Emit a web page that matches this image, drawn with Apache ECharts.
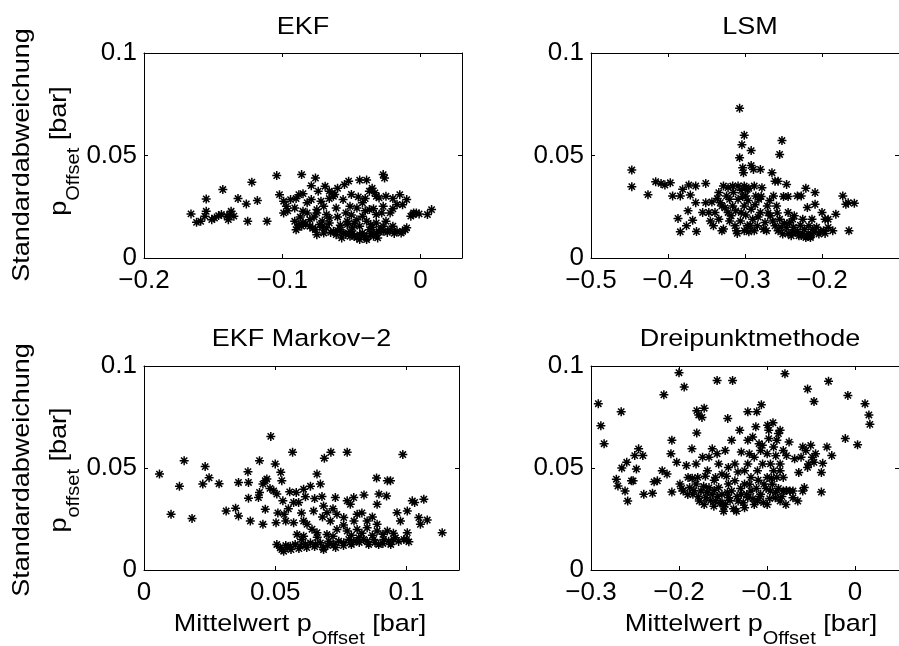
<!DOCTYPE html>
<html><head><meta charset="utf-8">
<script src="https://cdn.jsdelivr.net/npm/echarts@6/dist/echarts.min.js"></script>
<style>html,body{margin:0;padding:0;background:#fff}#c{width:899px;height:646px}</style>
</head><body><div id="c"></div>
<script>
const titles = ['EKF', 'LSM', 'EKF Markov\u22122', 'Dreipunktmethode'];
const xRanges = [[-0.2, 0.03], [-0.5, -0.1], [0, 0.12], [-0.3, 0.05]];
const xIntervals = [0.1, 0.1, 0.05, 0.1];
const yRange = [0, 0.1];
const yInterval = 0.05;
const xLabelText = ['Mittelwert p', 'Offset', ' [bar]'];
const yLabelTop = ['Standardabweichung', 'p', 'Offset', ' [bar]'];
const yLabelBottom = ['Standardabweichung', 'p', 'offset', ' [bar]'];

const ekfPts = [
[-0.166,0.0215],[-0.162,0.0174],[-0.159,0.0179],[-0.156,0.0204],[-0.155,0.0228],[-0.155,0.0288],[-0.151,0.0187],[-0.149,0.0195],[-0.146,0.0207],[-0.144,0.0212],[-0.143,0.0334],[-0.140,0.0204],[-0.139,0.0187],[-0.138,0.0212],[-0.137,0.0228],[-0.135,0.0204],[-0.132,0.029],[-0.126,0.0264],[-0.125,0.0179],[-0.122,0.037],[-0.118,0.028],[-0.111,0.0179],[-0.104,0.0402],
[-0.086,0.0407],[-0.076,0.039],[-0.079,0.0353],[-0.069,0.035],[-0.074,0.0326],[-0.055,0.0358],[-0.052,0.0375],[-0.044,0.038],[-0.039,0.038],[-0.027,0.0407],[-0.026,0.039],[-0.037,0.0326],[-0.064,0.0318],[-0.063,0.0301],
[-0.102,0.0309],[-0.099,0.0277],[-0.094,0.0285],[-0.088,0.0309],[-0.085,0.0314],[-0.079,0.0285],[-0.072,0.0277],[-0.056,0.0285],[-0.045,0.0298],[-0.042,0.0269],[-0.032,0.0301],[-0.025,0.0301],[-0.015,0.0309],[-0.010,0.0285],[-0.017,0.0261],[-0.027,0.0252],[-0.037,0.0236],[-0.046,0.0244],[-0.061,0.0244],[-0.075,0.0236],[-0.085,0.0228],[-0.091,0.0244],[-0.097,0.0252],[-0.099,0.022],
[-0.0055,0.0212],[-0.003,0.022],[-0.007,0.0204],[0.005,0.0212],[0.008,0.0236],[-0.022,0.022],[-0.032,0.0212],[-0.054,0.022],[-0.068,0.0212],[-0.075,0.022],[-0.082,0.022],
[-0.091,0.0179],[-0.088,0.0163],[-0.085,0.0174],[-0.080,0.0155],[-0.076,0.0138],[-0.073,0.0163],[-0.068,0.0147],[-0.063,0.013],[-0.058,0.0138],[-0.056,0.0122],[-0.051,0.013],[-0.048,0.0106],[-0.044,0.0155],[-0.042,0.0122],[-0.039,0.0098],[-0.037,0.0138],[-0.032,0.0122],[-0.027,0.013],[-0.022,0.0138],[-0.017,0.013],[-0.011,0.0138],[-0.010,0.0147],
[-0.090,0.0138],[-0.066,0.0171],[-0.053,0.0179],[-0.046,0.0187],[-0.039,0.0179],[-0.032,0.0171],[-0.025,0.0179],[-0.070,0.0122],[-0.061,0.0114],[-0.051,0.0106],[-0.044,0.0114],[-0.034,0.0106],[-0.027,0.0155],[-0.080,0.0187],[-0.066,0.0195],[-0.042,0.0204],[-0.053,0.0163],[-0.044,0.009],[-0.039,0.009],
[-0.086,0.0155],[-0.075,0.0114],[-0.057,0.0098],[-0.049,0.0147],[-0.036,0.0163],[-0.031,0.0098],[-0.020,0.0155],[-0.014,0.0122],[-0.066,0.0326],[-0.062,0.031],[-0.033,0.0318],[-0.030,0.0293],[-0.070,0.0252],[-0.051,0.0252],
[-0.089,0.015],[-0.083,0.0165],[-0.078,0.0145],[-0.071,0.015],[-0.065,0.0125],[-0.060,0.0135],[-0.054,0.0115],[-0.049,0.012],[-0.046,0.010],[-0.041,0.011],[-0.036,0.0118],[-0.030,0.0128],[-0.024,0.0125],[-0.019,0.012],[-0.013,0.013],[-0.058,0.016],[-0.048,0.017],[-0.035,0.015],[-0.029,0.014],[-0.071,0.018],[-0.087,0.020],[-0.077,0.020],[-0.060,0.020],[-0.050,0.021],[-0.040,0.023],[-0.034,0.024],[-0.028,0.022],[-0.020,0.024],[-0.013,0.026],[-0.090,0.029],[-0.082,0.027],[-0.066,0.029],[-0.060,0.034],[-0.050,0.031],[-0.040,0.029],[-0.035,0.034],[-0.020,0.029],[-0.005,0.022],[-0.001,0.0215],[-0.096,0.023]
];

const lsmPts = [
[-0.447,0.0429],[-0.447,0.0348],[-0.426,0.0309],[-0.416,0.0372],[-0.409,0.0364],[-0.404,0.0356],[-0.397,0.0367],[-0.394,0.0303],[-0.384,0.0303],[-0.381,0.0335],[-0.373,0.0356],[-0.364,0.0351],[-0.351,0.0364],[-0.371,0.0307],[-0.364,0.027],[-0.374,0.023],[-0.387,0.0193],[-0.384,0.0128],[-0.376,0.0157],[-0.368,0.0184],[-0.363,0.0129],[-0.355,0.0222],[-0.351,0.027],[-0.343,0.0273],[-0.341,0.0157],[-0.339,0.0222],[-0.334,0.0319],[-0.330,0.0254],[-0.328,0.0351],[-0.322,0.0343],[-0.320,0.0286],[-0.318,0.0206],[-0.313,0.0157],[-0.309,0.0351],
[-0.307,0.073],[-0.307,0.0489],[-0.304,0.0553],[-0.301,0.0599],[-0.303,0.044],[-0.302,0.0416],[-0.301,0.0351],[-0.299,0.0303],[-0.297,0.0157],[-0.295,0.0128],[-0.292,0.0524],[-0.292,0.0451],[-0.289,0.0432],[-0.280,0.0432],[-0.288,0.0351],[-0.282,0.0286],[-0.280,0.0222],[-0.274,0.0173],[-0.272,0.0133],[-0.263,0.0303],[-0.265,0.0416],[-0.261,0.0375],[-0.257,0.0375],[-0.255,0.0505],[-0.252,0.0573],[-0.246,0.0359],[-0.259,0.0254],[-0.255,0.0189],[-0.251,0.0117],[-0.242,0.0173],[-0.238,0.0125],[-0.232,0.0303],[-0.227,0.0303],[-0.221,0.034],[-0.219,0.0246],[-0.213,0.0189],[-0.209,0.0319],[-0.209,0.0262],[-0.200,0.0222],[-0.196,0.0189],[-0.192,0.0189],[-0.186,0.0133],[-0.182,0.0214],[-0.173,0.0303],[-0.169,0.0262],[-0.166,0.027],[-0.158,0.0267],[-0.165,0.0133],
[-0.334,0.0189],[-0.328,0.0141],[-0.322,0.0222],[-0.316,0.0254],[-0.309,0.0286],[-0.305,0.0222],[-0.301,0.0254],[-0.297,0.0335],[-0.292,0.0238],[-0.290,0.0189],[-0.286,0.0303],[-0.284,0.0157],[-0.278,0.0343],[-0.271,0.0254],[-0.267,0.0206],[-0.261,0.0157],[-0.257,0.0133],[-0.246,0.0149],[-0.240,0.0108],[-0.234,0.0125],[-0.230,0.0108],[-0.225,0.0117],[-0.221,0.010],[-0.215,0.0108],[-0.211,0.0125],[-0.204,0.0117],[-0.198,0.0133],[-0.192,0.0149],[-0.244,0.0222],[-0.236,0.0206],[-0.225,0.0189],[-0.217,0.0157],[-0.316,0.0351],[-0.324,0.0303],[-0.347,0.0222],[-0.330,0.0133],[-0.311,0.0133],[-0.301,0.0133],[-0.288,0.0133],
[-0.336,0.029],[-0.332,0.027],[-0.326,0.0245],[-0.320,0.018],[-0.315,0.032],[-0.312,0.023],[-0.306,0.018],[-0.303,0.030],[-0.299,0.021],[-0.296,0.028],[-0.293,0.016],[-0.287,0.026],[-0.283,0.020],[-0.279,0.030],[-0.276,0.014],[-0.270,0.022],[-0.268,0.028],[-0.264,0.018],[-0.258,0.022],[-0.253,0.015],[-0.249,0.017],[-0.244,0.012],[-0.237,0.015],[-0.232,0.013],[-0.228,0.016],[-0.223,0.014],[-0.218,0.012],[-0.212,0.014],[-0.207,0.015],[-0.202,0.013],[-0.196,0.012],[-0.227,0.011],[-0.215,0.010],[-0.238,0.019],[-0.250,0.030],[-0.244,0.030],[-0.345,0.018],[-0.310,0.012],[-0.295,0.034],[-0.305,0.033]
];

const markovPts = [
[0.0059,0.047],[0.0103,0.0273],[0.0135,0.041],[0.0153,0.0536],[0.0183,0.0253],[0.0224,0.0421],[0.0233,0.0507],[0.0248,0.0452],[0.0286,0.0423],[0.0313,0.0289],[0.0349,0.0303],[0.036,0.0429],[0.036,0.0265],[0.0396,0.0482],[0.0398,0.0429],[0.0398,0.0352],[0.0405,0.024],[0.044,0.0536],[0.0436,0.0355],[0.0453,0.0421],[0.0453,0.0224],[0.0462,0.0438],[0.0462,0.0298],[0.0468,0.0446],[0.0483,0.0655],[0.05,0.052],[0.0494,0.0388],[0.0503,0.0232],[0.0506,0.0372],[0.0521,0.0479],[0.0525,0.0438],[0.0529,0.0339],[0.0534,0.0273],[0.0555,0.0383],[0.0566,0.0577],[0.057,0.0331],[0.0589,0.0331],[0.0608,0.0396],[0.0615,0.0359],[0.0634,0.0411],[0.0659,0.047],[0.0672,0.0421],[0.0678,0.036],[0.0687,0.0548],[0.0712,0.0577],[0.0729,0.0355],[0.0774,0.0577],[0.0774,0.0339],[0.0799,0.0355],[0.0838,0.0368],[0.0886,0.0451],[0.0895,0.0372],[0.0927,0.0438],[0.0939,0.0438],[0.0924,0.0363],[0.0986,0.0566],[0.1003,0.0289],[0.1022,0.0339],[0.1031,0.0331],[0.1066,0.0347],[0.1047,0.0257],[0.1079,0.0245],[0.1053,0.0224],[0.1136,0.0183],[0.0964,0.0281],[0.0977,0.024],[0.1003,0.0183],[0.1009,0.0138],[0.0958,0.0158],
[0.0506,0.0125],[0.0519,0.0109],[0.0532,0.0092],[0.0545,0.0109],[0.0557,0.0117],[0.0576,0.0125],[0.0595,0.0117],[0.0615,0.0125],[0.0634,0.0133],[0.0653,0.0125],[0.0672,0.0133],[0.0684,0.0109],[0.0704,0.0141],[0.0723,0.0125],[0.0742,0.0141],[0.0761,0.0133],[0.078,0.015],[0.0799,0.0141],[0.0818,0.0158],[0.0837,0.015],[0.0856,0.0125],[0.0875,0.015],[0.0894,0.0125],[0.0913,0.015],[0.0932,0.0141],[0.0951,0.015],[0.099,0.015],
[0.0583,0.0174],[0.0608,0.0166],[0.0659,0.0183],[0.0697,0.0174],[0.0735,0.0199],[0.0774,0.0191],[0.0812,0.0199],[0.085,0.0207],[0.0888,0.0191],[0.0927,0.0191],[0.071,0.024],[0.0697,0.0281],[0.0735,0.0273],[0.0761,0.0257],[0.0812,0.0273],[0.085,0.024],[0.0888,0.0224],[0.0621,0.0224],[0.057,0.0232],[0.0608,0.024],[0.0646,0.0289],[0.0684,0.0314],[0.0786,0.0322],[0.0888,0.0322],[0.0684,0.010],
[0.0525,0.010],[0.054,0.012],[0.056,0.010],[0.059,0.0105],[0.062,0.011],[0.065,0.0115],[0.070,0.012],[0.073,0.011],[0.076,0.012],[0.079,0.0125],[0.082,0.0135],[0.085,0.014],[0.088,0.0135],[0.091,0.013],[0.094,0.0125],[0.097,0.014],[0.100,0.015],[0.060,0.015],[0.066,0.016],[0.072,0.0165],[0.079,0.017],[0.083,0.018],[0.087,0.017],[0.091,0.0175],[0.095,0.018],[0.064,0.020],[0.076,0.022],[0.080,0.024],[0.068,0.026],[0.072,0.030],[0.060,0.028],[0.055,0.030],[0.051,0.028],[0.083,0.028],[0.087,0.026],[0.065,0.035],[0.058,0.038],[0.048,0.040],[0.044,0.038],[0.054,0.024]
];

const dreiPts = [
[-0.2917,0.0815],[-0.2888,0.0707],[-0.2851,0.0619],[-0.2712,0.0445],[-0.2694,0.0412],[-0.2657,0.0776],[-0.265,0.05],[-0.2613,0.0387],[-0.2583,0.0338],[-0.2594,0.0528],[-0.254,0.0437],[-0.2521,0.0437],[-0.2503,0.0561],[-0.2484,0.0495],[-0.2459,0.0594],[-0.2411,0.0561],[-0.24,0.0371],[-0.2301,0.0376],[-0.2283,0.0432],[-0.2246,0.0437],[-0.2191,0.0487],[-0.2172,0.0859],[-0.2136,0.047],[-0.2092,0.057],[-0.2081,0.0636],[-0.2081,0.0382],[-0.2026,0.0528],[-0.2,0.0967],[-0.1941,0.0897],[-0.1916,0.0512],[-0.1897,0.0454],[-0.1853,0.0594],[-0.1842,0.0371],[-0.1798,0.0781],[-0.1776,0.076],[-0.1714,0.0793],[-0.1739,0.0748],[-0.1798,0.0672],[-0.1732,0.0553],[-0.1714,0.0321],[-0.1622,0.0594],[-0.1567,0.0929],[-0.1549,0.052],[-0.1512,0.0329],[-0.1475,0.0586],[-0.1446,0.0743],[-0.1402,0.0636],[-0.1391,0.0929],[-0.1347,0.0288],[-0.131,0.0685],[-0.1292,0.0578],[-0.1218,0.0776],[-0.1163,0.0652],[-0.1116,0.0776],[-0.1064,0.081],[-0.1108,0.0487],[-0.1127,0.0702],[-0.1053,0.0611],[-0.0993,0.071],[-0.098,0.0644],[-0.0932,0.0722],[-0.0925,0.0603],[-0.087,0.0669],[-0.0851,0.0685],[-0.0851,0.052],[-0.0851,0.0487],[-0.0796,0.0962],[-0.0815,0.0387],[-0.0785,0.0321],[-0.0749,0.0627],[-0.0686,0.0545],[-0.0639,0.0478],[-0.0613,0.0553],[-0.0594,0.0387],[-0.0576,0.0404],[-0.0539,0.0503],[-0.0539,0.0887],[-0.0503,0.0611],[-0.0466,0.0826],[-0.0448,0.057],[-0.0382,0.0478],[-0.0382,0.0382],[-0.0367,0.0523],[-0.0319,0.0603],[-0.0301,0.0925],[-0.0264,0.0561],[-0.011,0.0644],[-0.0081,0.0856],[0.0029,0.0614],[0.0114,0.0815],[0.0158,0.076],[0.0169,0.0714],
[-0.1989,0.0421],[-0.1952,0.0387],[-0.1879,0.0404],[-0.1806,0.0421],[-0.175,0.0387],[-0.1695,0.0354],[-0.1659,0.0404],[-0.1622,0.0371],[-0.1585,0.0338],[-0.1549,0.0404],[-0.1512,0.0371],[-0.1475,0.0321],[-0.1439,0.0354],[-0.1402,0.0387],[-0.1365,0.0437],[-0.1328,0.0338],[-0.1292,0.0371],[-0.1255,0.0421],[-0.1218,0.0354],[-0.1182,0.0387],[-0.1145,0.0321],[-0.1072,0.0371],[-0.1035,0.0421],[-0.0998,0.0321],[-0.0961,0.0387],[-0.0906,0.0354],[-0.0888,0.0454],[-0.0851,0.0338],[-0.0741,0.0387],[-0.0705,0.0354],[-0.065,0.0338],[-0.0705,0.0387],
[-0.1806,0.052],[-0.1677,0.0487],[-0.1585,0.0454],[-0.1512,0.047],[-0.1439,0.0503],[-0.1365,0.052],[-0.1255,0.0487],[-0.1218,0.052],[-0.1145,0.0553],[-0.1072,0.0586],[-0.0998,0.057],[-0.0961,0.052],[-0.0925,0.0487],[-0.1182,0.0454],[-0.0998,0.0454],[-0.1439,0.0421],[-0.1604,0.0313],[-0.1493,0.0288],[-0.1255,0.0305],[-0.1108,0.0338],[-0.1769,0.0338],[-0.1787,0.0454],[-0.1659,0.0553],[-0.1567,0.057],[-0.1218,0.0636],[-0.109,0.0619],[-0.098,0.0685],[-0.0888,0.0636],[-0.0815,0.0586],[-0.0778,0.0561],[-0.0594,0.0603],[-0.0558,0.0586],[-0.0484,0.0553],[-0.0466,0.0528],[-0.0528,0.052],[-0.0815,0.0454],
[-0.197,0.040],[-0.190,0.037],[-0.183,0.039],[-0.178,0.036],[-0.172,0.041],[-0.168,0.038],[-0.164,0.034],[-0.160,0.039],[-0.156,0.036],[-0.153,0.033],[-0.149,0.031],[-0.145,0.038],[-0.142,0.034],[-0.138,0.030],[-0.134,0.036],[-0.130,0.040],[-0.127,0.033],[-0.123,0.037],[-0.120,0.042],[-0.116,0.035],[-0.112,0.040],[-0.108,0.036],[-0.104,0.033],[-0.101,0.040],[-0.097,0.035],[-0.094,0.042],[-0.090,0.038],[-0.087,0.040],[-0.083,0.036],[-0.078,0.039],[-0.160,0.044],[-0.146,0.046],[-0.133,0.048],[-0.110,0.044],[-0.095,0.045],[-0.120,0.057],[-0.105,0.052],[-0.090,0.056],[-0.185,0.045],[-0.170,0.046]
];

const seriesData = [ekfPts, lsmPts, markovPts, dreiPts];

const FONT = '"Liberation Sans", Arial, Helvetica, sans-serif';
const TICK_FS = 26;
const TXT_FS = 27;
const SQ = 0.88;
const grids = [
  {left: 144, top: 53, width: 318, height: 205},
  {left: 591, top: 53, width: 318, height: 205},
  {left: 144, top: 366, width: 315, height: 204},
  {left: 591, top: 366, width: 318, height: 204}
];
const STAR = 'path://M0,5L10,5M5,0L5,10M1.5,1.5L8.5,8.5M1.5,8.5L8.5,1.5';

function fmtNum(v, iv) {
  const r = Math.round(v / iv);
  if (Math.abs(v - r * iv) > 1e-9) return '';
  let s = parseFloat((r * iv).toFixed(4)).toString();
  if (s === '-0') s = '0';
  return s.replace('-', '\u2212');
}

const xAxes = [], yAxes = [], series = [], graphics = [];
grids.forEach((g, i) => {
  const base = {
    gridIndex: i, type: 'value', min: xRanges[i][0], max: xRanges[i][1], interval: xIntervals[i],
    axisLine: {show: true, onZero: false, lineStyle: {color: '#000', width: 1}},
    axisTick: {show: true, inside: true, length: 4, lineStyle: {color: '#000', width: 1}},
    splitLine: {show: false}
  };
  xAxes.push(Object.assign({}, base, {
    position: 'bottom',
    axisLabel: {show: true, color: '#000', fontFamily: FONT, fontSize: TICK_FS, margin: 10,
      showMaxLabel: false, formatter: v => fmtNum(v, xIntervals[i])}
  }));
  xAxes.push(Object.assign({}, base, {position: 'top', axisLabel: {show: false}}));
  const ybase = {
    gridIndex: i, type: 'value', min: yRange[0], max: yRange[1], interval: yInterval,
    axisLine: {show: true, onZero: false, lineStyle: {color: '#000', width: 1}},
    axisTick: {show: true, inside: true, length: 4, lineStyle: {color: '#000', width: 1}},
    splitLine: {show: false}
  };
  yAxes.push(Object.assign({}, ybase, {
    position: 'left',
    axisLabel: {show: true, color: '#000', fontFamily: FONT, fontSize: TICK_FS, margin: 7,
      formatter: v => fmtNum(v, yInterval)}
  }));
  yAxes.push(Object.assign({}, ybase, {position: 'right', axisLabel: {show: false}}));
  series.push({
    type: 'scatter', xAxisIndex: 2 * i, yAxisIndex: 2 * i,
    data: seriesData[i], symbol: STAR, symbolSize: 9,
    itemStyle: {color: '#000', borderColor: '#000', borderWidth: 1.5, opacity: 1},
    emphasis: {disabled: true}, silent: true, animation: false
  });
  graphics.push({
    type: 'text', x: g.left + g.width / 2, y: i < 2 ? 27 : 339, scaleY: SQ,
    style: {text: titles[i], font: TXT_FS + 'px ' + FONT, fill: '#000', align: 'center', verticalAlign: 'middle'}
  });
});

const richStyles = {
  a: {fontSize: TXT_FS, fontFamily: FONT, lineHeight: 28, verticalAlign: 'top', fill: '#000', color: '#000'},
  s: {fontSize: 20, fontFamily: FONT, lineHeight: 20, verticalAlign: 'top', padding: [20, 0, 0, 0], fill: '#000', color: '#000'}
};
// x labels for bottom row
[[2, 300], [3, 751]].forEach(([i, cx]) => {
  graphics.push({
    type: 'text', x: cx, y: 625, scaleY: SQ,
    style: {
      text: '{a|' + xLabelText[0] + '}{s|' + xLabelText[1] + '}{a|' + xLabelText[2] + '}',
      rich: richStyles, align: 'center', verticalAlign: 'middle', fill: '#000'
    }
  });
});
// y labels for left column
[[yLabelTop, 155, 151], [yLabelBottom, 470, 470]].forEach(([lab, cy, cy2]) => {
  graphics.push({
    type: 'text', x: 22, y: cy, rotation: Math.PI / 2, scaleY: SQ,
    style: {text: lab[0], font: TXT_FS + 'px ' + FONT, fill: '#000', align: 'center', verticalAlign: 'middle'}
  });
  graphics.push({
    type: 'text', x: 60, y: cy2, rotation: Math.PI / 2, scaleY: SQ,
    style: {
      text: '{a|' + lab[1] + '}{s|' + lab[2] + '}{a|' + lab[3] + '}',
      rich: richStyles, align: 'center', verticalAlign: 'middle', fill: '#000'
    }
  });
});

const chart = echarts.init(document.getElementById('c'), null, {renderer: 'canvas'});
chart.setOption({
  animation: false,
  backgroundColor: '#fff',
  grid: grids,
  xAxis: xAxes,
  yAxis: yAxes,
  series: series,
  graphic: {elements: graphics}
});
</script>
</body></html>
